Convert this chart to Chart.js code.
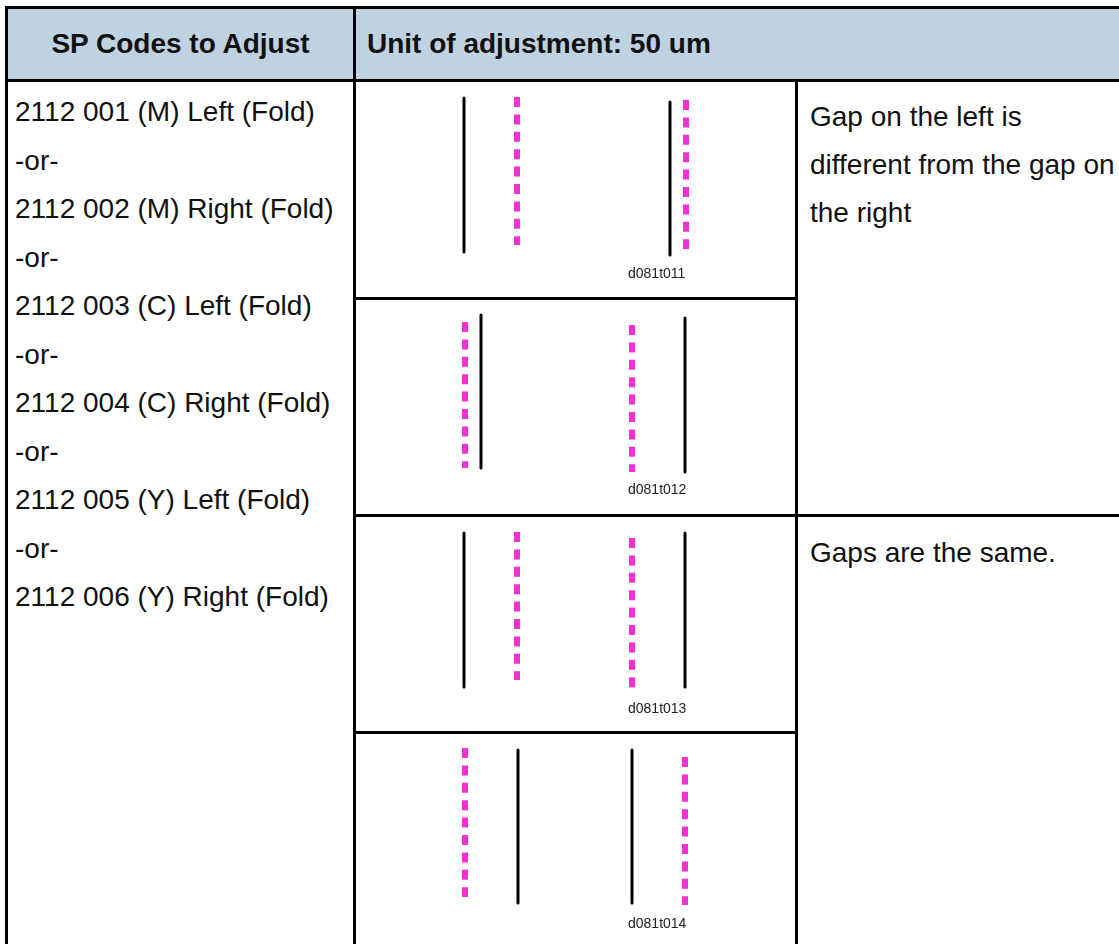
<!DOCTYPE html>
<html>
<head>
<meta charset="utf-8">
<script src="https://cdn.jsdelivr.net/npm/chart.js@4.4.1/dist/chart.umd.min.js"></script>
<style>
  html, body { margin: 0; padding: 0; background: #fff; }
  body { width: 1119px; height: 944px; overflow: hidden; position: relative;
         font-family: Arial, "Liberation Sans", Helvetica, sans-serif; color: #111; }
  .rule { position: absolute; background: #000; }
  .head { position: absolute; top: 9px; height: 70px; line-height: 70px;
          font-size: 28px; font-weight: bold; white-space: nowrap; }
  .txt { position: absolute; font-size: 28px; white-space: nowrap; }
  .panel { position: absolute; left: 356px; width: 439px; }
</style>
</head>
<body>
<div style="position:absolute;left:8px;top:9px;width:1111px;height:70px;background:#bfd2e2"></div>

<div class="head" style="left:8px;width:345px;text-align:center">SP Codes to Adjust</div>
<div class="head" style="left:367px">Unit of adjustment: 50 um</div>

<div class="txt" style="left:15px;top:88px;line-height:48.5px">
2112 001 (M) Left (Fold)<br>-or-<br>2112 002 (M) Right (Fold)<br>-or-<br>2112 003 (C) Left (Fold)<br>-or-<br>2112 004 (C) Right (Fold)<br>-or-<br>2112 005 (Y) Left (Fold)<br>-or-<br>2112 006 (Y) Right (Fold)
</div>
<div class="txt" style="left:810px;top:93px;line-height:48px">
Gap on the left is<br>different from the gap on<br>the right
</div>
<div class="txt" style="left:810px;top:529px;line-height:48px">Gaps are the same.</div>

<div class="panel" style="top:82px;height:215px"><canvas id="p0"></canvas></div>
<div class="panel" style="top:300px;height:214px"><canvas id="p1"></canvas></div>
<div class="panel" style="top:517px;height:214px"><canvas id="p2"></canvas></div>
<div class="panel" style="top:734px;height:213px"><canvas id="p3"></canvas></div>

<!-- table rules -->
<div class="rule" style="left:5px;top:6px;width:1114px;height:3px"></div>
<div class="rule" style="left:5px;top:79px;width:1114px;height:3px"></div>
<div class="rule" style="left:5px;top:6px;width:3px;height:944px"></div>
<div class="rule" style="left:353px;top:6px;width:3px;height:944px"></div>
<div class="rule" style="left:795px;top:79px;width:3px;height:871px"></div>
<div class="rule" style="left:353px;top:297px;width:445px;height:3px"></div>
<div class="rule" style="left:353px;top:514px;width:766px;height:3px"></div>
<div class="rule" style="left:353px;top:731px;width:445px;height:3px"></div>

<script>
const captions = ["d081t011", "d081t012", "d081t013", "d081t014"];
const panelHeights = [215, 214, 214, 213];

// solid black lines: x position, top and bottom end in each panel
const blackX = [[108, 314], [125, 329], [108, 329], [162, 276]];
const blackTop = [[16, 20], [15, 18], [16, 16], [16, 16]];
const blackBottom = [[170, 173], [168, 172], [170, 170], [169, 169]];

// magenta dashed lines
const magentaX = [[161, 330], [109, 276], [161, 276], [109, 329]];
const magentaTop = [[15, 18], [22, 25], [15, 21], [14, 23]];
const magentaBottom = [[163, 167], [168, 172], [163, 171], [163, 171]];

const captionPlugin = {
  id: "caption",
  afterDatasetsDraw(chart, args, opts) {
    const { ctx, scales } = chart;
    ctx.save();
    ctx.font = "14px Arial, 'Liberation Sans', sans-serif";
    ctx.fillStyle = "#222";
    ctx.textBaseline = "alphabetic";
    ctx.fillText(opts.text, scales.x.getPixelForValue(272), scales.y.getPixelForValue(opts.y));
    ctx.restore();
  },
};

function vline(x, top, bottom, style) {
  return {
    data: [{ x, y: top }, { x, y: bottom }],
    showLine: true,
    pointRadius: 0,
    fill: false,
    ...style,
  };
}

const solidStyle = { borderColor: "#000", borderWidth: 3, borderCapStyle: "round" };
const dashStyle = {
  borderColor: "#f92fd6",
  borderWidth: 6,
  borderCapStyle: "butt",
  borderDash: [10, 7.4],
};

function renderPanel(i) {
  const datasets = [];
  blackX[i].forEach((x, k) => datasets.push(vline(x, blackTop[i][k], blackBottom[i][k], solidStyle)));
  magentaX[i].forEach((x, k) =>
    datasets.push(vline(x, magentaTop[i][k], magentaBottom[i][k], dashStyle))
  );

  new Chart(document.getElementById("p" + i), {
    type: "line",
    data: { datasets },
    options: {
      responsive: true,
      maintainAspectRatio: false,
      animation: false,
      events: [],
      layout: { padding: 0 },
      scales: {
        x: { type: "linear", min: 0, max: 439, display: false },
        y: { type: "linear", min: 0, max: panelHeights[i], reverse: true, display: false },
      },
      plugins: {
        legend: { display: false },
        tooltip: { enabled: false },
        caption: { text: captions[i], y: i % 2 ? 194 : 196 },
      },
    },
    plugins: [captionPlugin],
  });
}

captions.forEach((_, i) => renderPanel(i));
</script>
</body>
</html>
